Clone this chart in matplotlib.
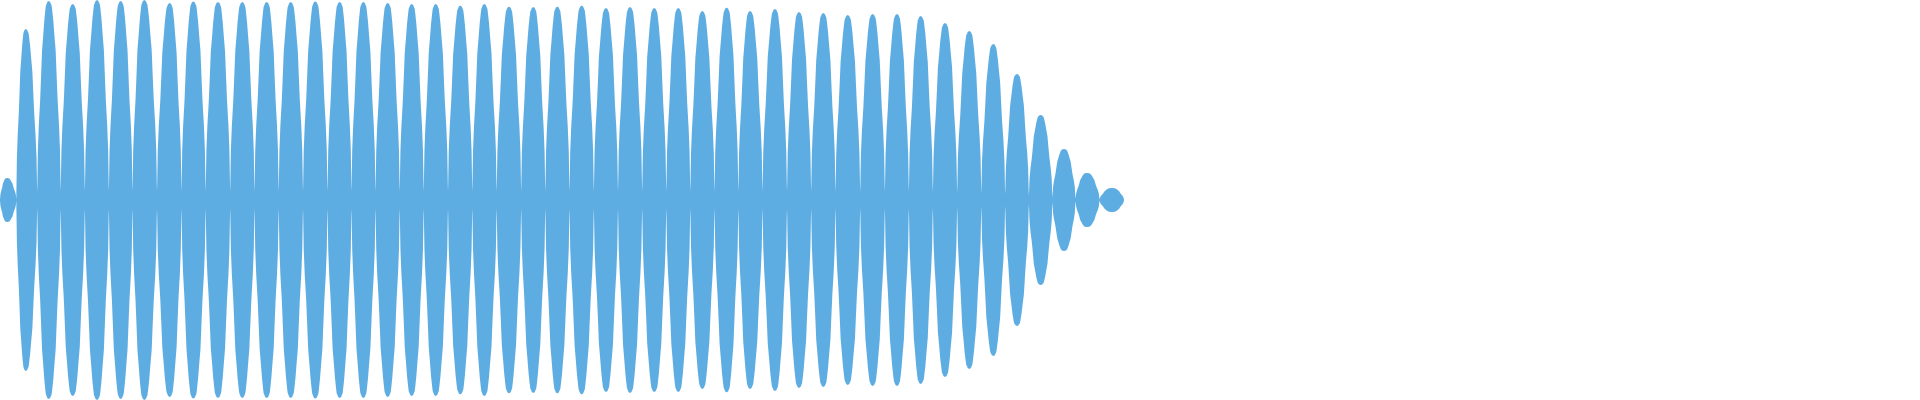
import numpy as np
import matplotlib
matplotlib.use("Agg")
import matplotlib.pyplot as plt

# beat lobes of the waveform, times in seconds, peak amplitude normalised to 1
clip_start = 0.0
clip_end = 1.124
lobe_times = [0.0070, 0.0257, 0.0487, 0.0727, 0.0970, 0.1207, 0.1443, 0.1697, 0.1933, 0.2180,
              0.2423, 0.2667, 0.2907, 0.3153, 0.3397, 0.3633, 0.3877, 0.4117, 0.4357, 0.4603,
              0.4843, 0.5090, 0.5333, 0.5573, 0.5817, 0.6060, 0.6300, 0.6543, 0.6783, 0.7023,
              0.7267, 0.7500, 0.7750, 0.7990, 0.8233, 0.8477, 0.8727, 0.8970, 0.9207, 0.9450,
              0.9693, 0.9933, 1.0170, 1.0407, 1.0640, 1.0870, 1.1120]
lobe_peaks = [0.11, 0.855, 0.995, 0.98, 1.0, 0.995, 1.0, 0.985, 0.993, 0.99,
              0.99, 0.99, 0.99, 0.993, 0.99, 0.99, 0.985, 0.98, 0.98, 0.972,
              0.98, 0.967, 0.965, 0.967, 0.972, 0.96, 0.965, 0.96, 0.96, 0.945,
              0.962, 0.945, 0.955, 0.94, 0.935, 0.925, 0.93, 0.93, 0.92, 0.885,
              0.845, 0.78, 0.63, 0.425, 0.255, 0.135, 0.06]

# measured shape of one lobe: offset from lobe centre (0) to node (1) vs fraction of peak
profile_offset = [0.0, 0.12, 0.25, 0.30, 0.385, 0.48, 0.58, 0.66, 0.745, 0.86, 0.94, 0.985, 1.0]
profile_level = [1.0, 0.995, 0.975, 0.95, 0.9, 0.825, 0.75, 0.625, 0.5, 0.375, 0.25, 0.08, 0.044]

WAVE_COLOR = "#5DADE2"


def envelope():
	#build the upper envelope lobe by lobe, nodes sit halfway between lobe centres
	xs = []
	ys = []
	off = np.array(profile_offset)
	lev = np.array(profile_level)
	n = len(lobe_times)
	for i in range(n):
		c = lobe_times[i]
		left = clip_start if i == 0 else (lobe_times[i - 1] + c) / 2
		right = clip_end if i == n - 1 else (c + lobe_times[i + 1]) / 2
		xs.extend(c - off[::-1] * (c - left))
		ys.extend(lobe_peaks[i] * lev[::-1])
		xs.extend((c + off * (right - c))[1:])
		ys.extend((lobe_peaks[i] * lev)[1:])
	return np.array(xs), np.array(ys)


def main():
	fig = plt.figure(figsize=(19.2, 4), dpi=100)
	ax = fig.add_axes([0, 0, 1, 1])
	x, y = envelope()
	ax.fill_between(x, -y, y, color=WAVE_COLOR, linewidth=0)
	ax.set_xlim(0, clip_end * 1920 / 1124)
	ax.set_ylim(-1, 1)
	ax.axis("off")
	fig.savefig("out.png", dpi=100)


if __name__ == '__main__': main()
